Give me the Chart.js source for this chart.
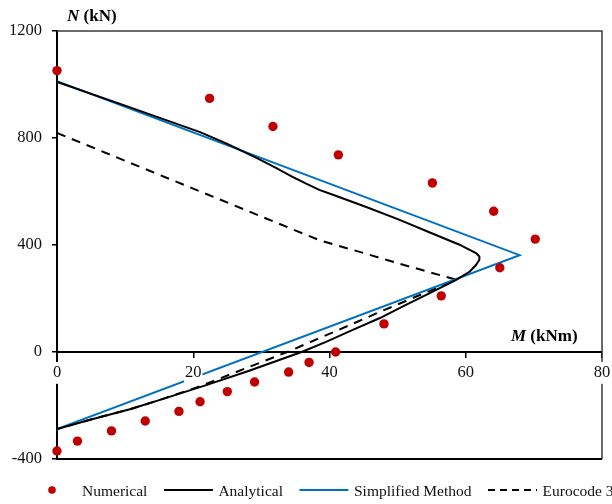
<!DOCTYPE html>
<html>
<head>
<meta charset="utf-8">
<script src="https://cdn.jsdelivr.net/npm/chart.js@4.4.0/dist/chart.umd.min.js"></script>
<style>
  html, body { margin: 0; padding: 0; background: #fff; }
</style>
</head>
<body>
<canvas id="nmChart" width="612" height="504"></canvas>
<script>
// values (M in kNm, N in kN)
const numericalM = [0, 22.4, 31.7, 41.3, 55.1, 64.1, 70.2, 65.0, 56.4, 48.0, 40.9, 37.0, 34.0, 29.0, 25.0, 21.0, 17.9, 12.95, 8.0, 3.0, 0];
const numericalN = [1052, 948, 843, 737, 632, 526, 422, 315, 210, 105, 0, -39, -75, -112, -148, -186, -222, -258, -295, -333, -370];

const analyticalM = [0, 10, 21, 25, 29.5, 32, 34.5, 36.5, 38.5, 40.5, 45.4, 50.3, 55, 59, 61.5, 62, 62, 61.5, 60.6, 58.6, 55, 51, 47.4, 43, 39.5, 35.9, 28, 21.9, 15, 10.7, 5, 0];
const analyticalN = [1010, 921, 822, 778, 723, 690, 656, 630, 606, 588, 542, 494, 444, 402, 370, 357, 345, 325, 301, 270, 224, 173, 127, 78, 38, 0, -72, -124, -180, -214, -252, -288];

const simplifiedM = [0, 67.9, 0];
const simplifiedN = [1012, 362, -288];

const eurocodeM = [0, 38.5, 45, 50.3, 58.6, 47.4, 43, 33.8, 21, 15, 10.7, 5, 0];
const eurocodeN = [819, 418, 370, 330, 270, 150, 101, 0, -128, -180, -214, -252, -288];

const xTicks = [0, 20, 40, 60, 80];
const yTicks = [-400, 0, 400, 800, 1200];

const serif = '"Liberation Serif", "Times New Roman", serif';

function toPoints(ms, ns) {
    return ms.map((m, i) => ({ x: m, y: ns[i] }));
}

// frame, axis titles and the legend row
const extras = {
    id: 'extras',
    beforeDatasetsDraw(chart) {
        const { ctx, chartArea: a } = chart;
        ctx.save();
        ctx.strokeStyle = '#3a3a3a';
        ctx.lineWidth = 1.5;
        ctx.beginPath();
        ctx.moveTo(a.left, a.top);
        ctx.lineTo(a.right, a.top);
        ctx.lineTo(a.right, a.bottom);
        ctx.stroke();
        ctx.strokeStyle = '#000';
        ctx.lineWidth = 2;
        ctx.beginPath();
        ctx.moveTo(a.left - 1, a.bottom);
        ctx.lineTo(a.right, a.bottom);
        ctx.stroke();
        ctx.restore();
    },
    afterDraw(chart) {
        const { ctx, chartArea: a } = chart;
        const zeroY = chart.scales.y.getPixelForValue(0);
        ctx.save();
        ctx.fillStyle = '#000';
        ctx.textBaseline = 'alphabetic';

        // N (kN)
        let tx = a.left + 10;
        ctx.font = 'italic bold 17px ' + serif;
        ctx.fillText('N', tx, a.top - 10);
        tx += ctx.measureText('N').width;
        ctx.font = 'bold 17px ' + serif;
        ctx.fillText(' (kN)', tx, a.top - 10);

        // M (kNm)
        tx = a.right - 91;
        ctx.font = 'italic bold 17px ' + serif;
        ctx.fillText('M', tx, zeroY - 11);
        tx += ctx.measureText('M').width;
        ctx.font = 'bold 17px ' + serif;
        ctx.fillText(' (kNm)', tx, zeroY - 11);

        // legend
        ctx.font = '15.5px ' + serif;
        let x = 27.5;
        const y = 490;
        chart.data.datasets.forEach(ds => {
            if (ds.showLine === false) {
                ctx.fillStyle = ds.backgroundColor;
                ctx.beginPath();
                ctx.arc(x + 24.5, y, 3.8, 0, Math.PI * 2);
                ctx.fill();
            } else {
                ctx.strokeStyle = ds.borderColor;
                ctx.lineWidth = 2;
                ctx.setLineDash(ds.borderDash ? [7, 5] : []);
                ctx.beginPath();
                ctx.moveTo(x, y);
                ctx.lineTo(x + 49, y);
                ctx.stroke();
                ctx.setLineDash([]);
            }
            x += 49 + 5.5;
            ctx.fillStyle = '#111';
            ctx.fillText(ds.label, x, y + 6);
            x += ctx.measureText(ds.label).width + 16.5;
        });
        ctx.restore();
    }
};

new Chart(document.getElementById('nmChart'), {
    type: 'scatter',
    data: {
        datasets: [{
            label: 'Numerical',
            data: toPoints(numericalM, numericalN),
            showLine: false,
            backgroundColor: '#c00000',
            borderWidth: 0,
            pointRadius: 4.7,
            pointHoverRadius: 4.7,
            clip: false
        }, {
            label: 'Analytical',
            data: toPoints(analyticalM, analyticalN),
            showLine: true,
            borderColor: '#000000',
            backgroundColor: '#000000',
            borderWidth: 2,
            pointRadius: 0,
            tension: 0
        }, {
            label: 'Simplified Method',
            data: toPoints(simplifiedM, simplifiedN),
            showLine: true,
            borderColor: '#0070c0',
            backgroundColor: '#0070c0',
            borderWidth: 2,
            pointRadius: 0,
            tension: 0
        }, {
            label: 'Eurocode 3',
            data: toPoints(eurocodeM, eurocodeN),
            showLine: true,
            borderColor: '#000000',
            backgroundColor: '#000000',
            borderWidth: 2,
            borderDash: [9, 7],
            pointRadius: 0,
            tension: 0
        }]
    },
    options: {
        responsive: false,
        animation: false,
        events: [],
        layout: { padding: { left: 0, top: 31, right: 10, bottom: 45 } },
        plugins: {
            legend: { display: false },
            tooltip: { enabled: false }
        },
        scales: {
            x: {
                type: 'linear',
                position: { y: 0 },
                min: 0,
                max: 80,
                afterFit(scale) {
                    scale.height = 0;
                    scale.paddingLeft = 0;
                    scale.paddingRight = 0;
                },
                afterBuildTicks(scale) { scale.ticks = xTicks.map(v => ({ value: v })); },
                border: { display: true, color: '#000', width: 2 },
                grid: { display: true, drawOnChartArea: false, drawTicks: true, tickLength: 5, color: '#000', lineWidth: 1.5 },
                ticks: {
                    z: 1,
                    padding: 6,
                    color: '#111',
                    font: { family: serif, size: 16.5 },
                    callback: v => String(v),
                    showLabelBackdrop: true,
                    backdropColor: '#ffffff',
                    backdropPadding: 1
                }
            },
            y: {
                type: 'linear',
                position: 'left',
                min: -400,
                max: 1200,
                afterFit(scale) {
                    scale.width = 57;
                    scale.paddingTop = 0;
                    scale.paddingBottom = 0;
                },
                afterBuildTicks(scale) { scale.ticks = yTicks.map(v => ({ value: v })); },
                border: { display: true, color: '#000', width: 2 },
                grid: { display: true, drawOnChartArea: false, drawTicks: true, tickLength: 5, color: '#000', lineWidth: 1.5 },
                ticks: {
                    padding: 10,
                    color: '#111',
                    font: { family: serif, size: 16.5 },
                    callback: v => String(v)
                }
            }
        }
    },
    plugins: [extras]
});
</script>
</body>
</html>
